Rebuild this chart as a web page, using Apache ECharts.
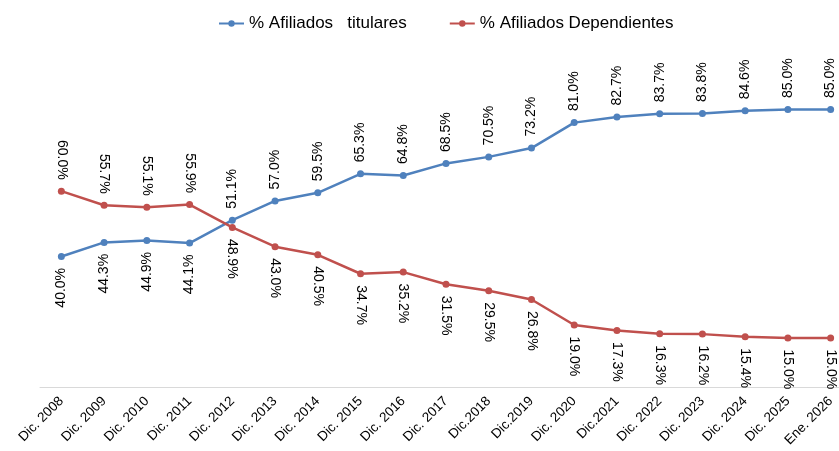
<!DOCTYPE html>
<html><head><meta charset="utf-8">
<script src="https://cdn.jsdelivr.net/npm/echarts@6/dist/echarts.min.js"></script>
<style>html,body{margin:0;padding:0;background:#fff;overflow:hidden}#c{width:852px;height:451px}</style>
</head><body><div id="c"></div>
<script>
const categories = ["Dic. 2008","Dic. 2009","Dic. 2010","Dic. 2011","Dic. 2012","Dic. 2013","Dic. 2014","Dic. 2015","Dic. 2016","Dic. 2017","Dic.2018","Dic.2019","Dic. 2020","Dic.2021","Dic. 2022","Dic. 2023","Dic. 2024","Dic. 2025","Ene. 2026"];
const titulares = [40.0,44.3,44.9,44.1,51.1,57.0,59.5,65.3,64.8,68.5,70.5,73.2,81.0,82.7,83.7,83.8,84.6,85.0,85.0];
const dependientes = [60.0,55.7,55.1,55.9,48.9,43.0,40.5,34.7,35.2,31.5,29.5,26.8,19.0,17.3,16.3,16.2,15.4,15.0,15.0];
const seriesNames = ["% Afiliados   titulares","% Afiliados Dependientes"];

const FONT = '"Liberation Sans", Arial, sans-serif';
function build(vals, rot, flipCount, isBlue){
  return vals.map((v,i)=>{
    const flipped = i < flipCount;
    let above = isBlue ? !flipped : flipped;
    let align;
    if (rot === 90) align = above ? 'left' : 'right';
    else align = above ? 'right' : 'left';
    return {value:v, label:{position: above?'top':'bottom', rotate:rot, align:align, verticalAlign:'middle', distance:8}};
  });
}
const chart = echarts.init(document.getElementById('c'));
chart.setOption({
  animation:false,
  legend:{top:10, left:213, itemGap:42, itemWidth:25, itemHeight:8,
    textStyle:{fontFamily:FONT, fontSize:17, color:'#000'}, data:seriesNames},
  grid:{left:40, right:0, top:60.6, bottom:64, containLabel:false},
  xAxis:{type:'category', data:categories, boundaryGap:true,
    axisLine:{lineStyle:{color:'#d9d9d9', width:1}}, axisTick:{show:false},
    axisLabel:{rotate:45, interval:0, fontFamily:FONT, fontSize:13.5, color:'#000', margin:12}},
  yAxis:{type:'value', min:0, max:100, show:false, splitLine:{show:false}},
  series:[
    {name:seriesNames[0], type:'line', data:build(titulares,90,4,true), symbol:'circle', symbolSize:7,
     color:'#4F81BD', lineStyle:{width:2.5},
     label:{show:true, formatter:p=>p.value.toFixed(1)+'%', fontFamily:FONT, fontSize:14, color:'#000'}},
    {name:seriesNames[1], type:'line', data:build(dependientes,-90,4,false), symbol:'circle', symbolSize:7,
     color:'#C0504D', lineStyle:{width:2.5},
     label:{show:true, formatter:p=>p.value.toFixed(1)+'%', fontFamily:FONT, fontSize:14, color:'#000'}}
  ]
});
</script></body></html>
